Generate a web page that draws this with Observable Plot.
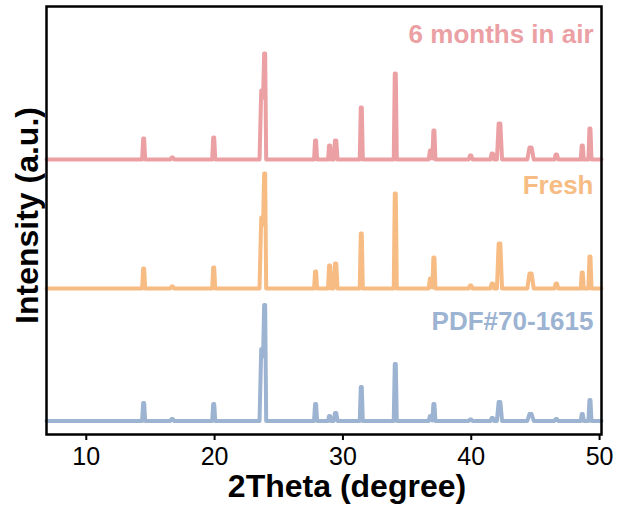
<!DOCTYPE html>
<html>
<head>
<meta charset="utf-8">
<script src="https://cdn.jsdelivr.net/npm/d3@7"></script>
<script src="https://cdn.jsdelivr.net/npm/@observablehq/plot@0.6"></script>
<style>
  html, body { margin: 0; padding: 0; background: #fff; }
  #chart svg { display: block; }
</style>
</head>
<body>
<div id="chart"></div>
<script>
// Reflection positions (2θ, degrees) shared by all three patterns
const peakPositions = [14.47, 16.7, 19.93, 23.7, 23.9, 27.87, 28.96, 29.43, 31.43, 34.08,
                       36.83, 37.09, 39.95, 41.64, 42.2, 44.62, 46.63, 48.65, 49.25];
// Peak widths (degrees)
const peakWidths    = [0.12, 0.15, 0.12, 0.2, 0.12, 0.12, 0.12, 0.15, 0.12, 0.12,
                       0.15, 0.12, 0.15, 0.15, 0.2, 0.25, 0.15, 0.12, 0.12];
// Peak intensities (a.u.) above each pattern's baseline
const agedHeights      = [21, 2, 22, 69, 106, 19, 14, 19, 52, 86, 9, 29, 4, 6, 36, 12, 5, 14, 31];
const freshHeights     = [20, 2, 21, 71, 115, 17, 23, 25, 55, 95, 10, 31, 3, 5, 45, 15, 5, 16, 32];
const referenceHeights = [18, 2, 17, 72, 116, 17, 5, 8, 34, 57, 5, 17, 1.5, 3, 19, 7, 2, 7, 21];

const seriesNames   = ["6 months in air", "Fresh", "PDF#70-1615"];
const seriesOffsets = [275, 146, 13.5];
const seriesColors  = ["#EBA0A4", "#F6BC84", "#9DB3D2"];

const xTicks  = [10, 20, 30, 40, 50];
const xDomain = [6.9, 50.15];
const xTitle  = "2Theta (degree)";
const yTitle  = "Intensity (a.u.)";

// Build one stacked trace: flat-topped peaks on a flat baseline
function trace(heights, offset, name) {
  const xs = new Set(xDomain);
  peakPositions.forEach((p, i) => {
    const w = peakWidths[i];
    [p - w, p - w / 3, p + w / 3, p + w].forEach(x => xs.add(+x.toFixed(4)));
  });
  return [...xs].sort((a, b) => a - b).map(x => {
    let h = 0;
    peakPositions.forEach((p, i) => {
      const w = peakWidths[i], d = Math.abs(x - p);
      const f = d <= w / 3 ? 1 : d >= w ? 0 : (w - d) / (w - w / 3);
      h = Math.max(h, heights[i] * f);
    });
    return {theta: x, intensity: offset + h, series: name};
  });
}

const allHeights = [agedHeights, freshHeights, referenceHeights];
const traces = seriesNames.flatMap((name, k) => trace(allHeights[k], seriesOffsets[k], name));

// Label heights above each baseline
const labelLift = [125, 103, 99];
const labels = seriesNames.map((name, k) => ({name, y: seriesOffsets[k] + labelLift[k]}));

const chart = Plot.plot({
  width: 619,
  height: 511,
  marginLeft: 46,
  marginRight: 18,
  marginTop: 6,
  marginBottom: 77,
  style: {fontFamily: "'Liberation Sans', Arial, sans-serif", color: "#000", background: "#fff"},
  x: {domain: xDomain},
  y: {domain: [0, 428]},
  color: {domain: seriesNames, range: seriesColors},
  marks: [
    Plot.line(traces, {
      x: "theta", y: "intensity", z: "series", stroke: "series",
      strokeWidth: 4, strokeLinejoin: "round", strokeLinecap: "round"
    }),
    Plot.text(labels, {
      y: "y", text: "name", fill: "name", frameAnchor: "right", dx: -8,
      textAnchor: "end", fontSize: 26, fontWeight: "bold"
    }),
    Plot.frame({stroke: "#000", strokeWidth: 2.5}),
    Plot.axisX({
      ticks: xTicks, tickSize: 6, tickPadding: 7, strokeWidth: 2,
      fontSize: 25, label: null
    }),
    Plot.axisY({ticks: [], label: null}),
    Plot.text([xTitle], {
      frameAnchor: "bottom", lineAnchor: "top", dy: 40, dx: 23,
      fontSize: 32, fontWeight: "bold", text: d => d
    }),
    Plot.text([yTitle], {
      frameAnchor: "left", textAnchor: "middle", rotate: -90, dx: -19, dy: -5,
      fontSize: 32, fontWeight: "bold", text: d => d
    })
  ]
});

document.getElementById("chart").appendChild(chart);
</script>
</body>
</html>
